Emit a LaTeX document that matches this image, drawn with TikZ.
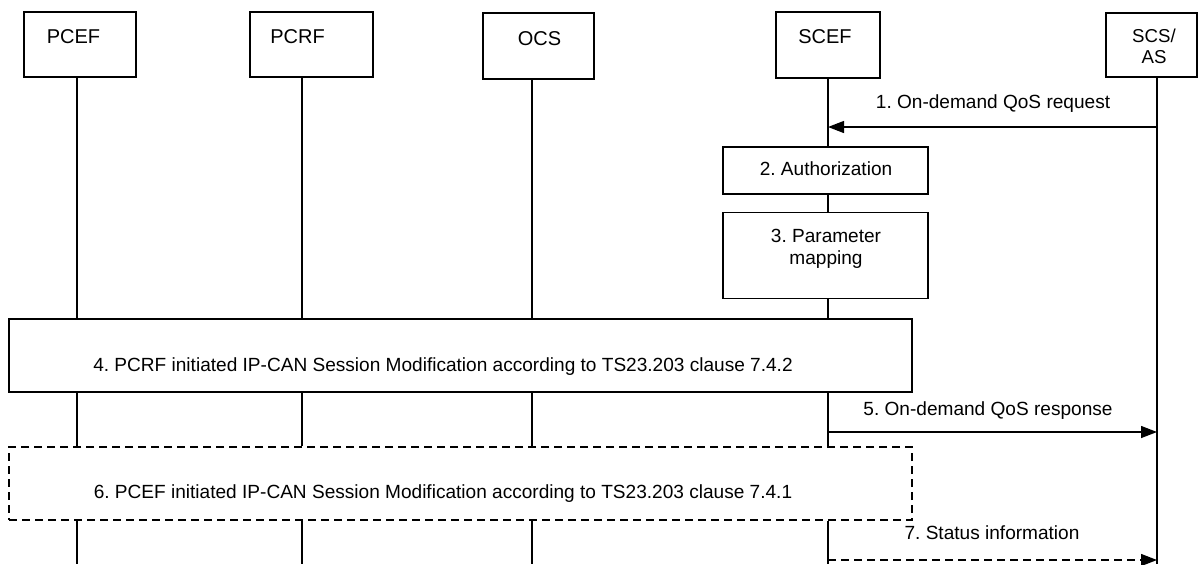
\documentclass[tikz,border=0pt]{standalone}
\usepackage{fontspec}
\setmainfont{Liberation Sans}
\frenchspacing
\usetikzlibrary{arrows.meta}
\begin{document}
\begin{tikzpicture}[x=0.75pt,y=-0.75pt,
  ent/.style={draw,line width=1pt,fill=white,inner sep=0pt},
  proc/.style={draw,line width=1pt,fill=white,inner sep=0pt},
  dproc/.style={proc,dash pattern=on 6pt off 3.75pt},
  enttext/.style={inner sep=0pt,anchor=base,font=\fontsize{15}{18}\selectfont},
  life/.style={line width=0.85pt},
  msg/.style={line width=1pt,-{Triangle[length=12pt,width=9pt]}},
  dmsg/.style={msg,dash pattern=on 6pt off 3.75pt},
  mlabel/.style={inner sep=0pt,anchor=base,align=center,font=\fontsize{14.3}{16.5}\selectfont}]
\useasboundingbox (0,0) rectangle (1198,564);
% entity boxes
\node[ent,minimum width=84pt,minimum height=48.75pt] (pcef) at (80,44.5) {};
\node[ent,minimum width=92.25pt,minimum height=48.75pt] (pcrf) at (311.5,44.5) {};
\node[ent,minimum width=83.25pt,minimum height=49.5pt] (ocs) at (538.5,46) {};
\node[ent,minimum width=78pt,minimum height=49.5pt] (scef) at (828,45) {};
\node[ent,minimum width=68.25pt,minimum height=48pt] (scs) at (1151.5,45) {};
\node[enttext] (tpcef) at (73.5,43) {PCEF};
\node[enttext] (tpcrf) at (297.5,43) {PCRF};
\node[enttext] (tocs) at (539.5,45) {OCS};
\node[enttext] (tscef) at (825,43) {SCEF};
\node[inner sep=0pt,anchor=base,align=center,font=\fontsize{14}{15.75}\selectfont] (tscs) at (1154,63) {SCS/\\AS};
% lifeline x positions
\coordinate (x1) at (77,0);
\coordinate (x2) at (302,0);
\coordinate (x3) at (532,0);
\coordinate (x4) at (828,0);
\coordinate (x5) at (1157,0);
\coordinate (bottom) at (0,564);
% process boxes
\node[proc,minimum width=153.75pt,minimum height=35.25pt] (auth) at (825.5,170.5) {};
\node[mlabel] (tauth) at (826,175) {2. Authorization};
\node[proc,minimum width=153.75pt,minimum height=64.5pt,anchor=north] (pmap) at (825.5,212) {};
\node[mlabel] (tpmap) at (826,264) {3. Parameter\\mapping};
\node[proc,minimum width=677.25pt,minimum height=54.75pt] (s4) at (460.5,355.5) {};
\node[mlabel] (t4) at (443,371) {4. PCRF initiated IP-CAN Session Modification according to TS23.203 clause 7.4.2};
\node[dproc,minimum width=677.25pt,minimum height=54.75pt] (s6) at (460.5,483.5) {};
\node[mlabel] (t6) at (443,498) {6. PCEF initiated IP-CAN Session Modification according to TS23.203 clause 7.4.1};
% lifelines
\draw[life] (pcef.south -| x1) -- (s4.north -| x1);
\draw[life] (s4.south -| x1) -- (s6.north -| x1);
\draw[life] (s6.south -| x1) -- (bottom -| x1);
\draw[life] (pcrf.south -| x2) -- (s4.north -| x2);
\draw[life] (s4.south -| x2) -- (s6.north -| x2);
\draw[life] (s6.south -| x2) -- (bottom -| x2);
\draw[life] (ocs.south -| x3) -- (s4.north -| x3);
\draw[life] (s4.south -| x3) -- (s6.north -| x3);
\draw[life] (s6.south -| x3) -- (bottom -| x3);
\draw[life] (scef.south -| x4) -- (auth.north -| x4);
\draw[life] (auth.south -| x4) -- (pmap.north -| x4);
\draw[life] (pmap.south -| x4) -- (s4.north -| x4);
\draw[life] (s4.south -| x4) -- (s6.north -| x4);
\draw[life] (s6.south -| x4) -- (bottom -| x4);
\draw[life] (scs.south -| x5) -- (bottom -| x5);
% messages
\coordinate (m1a) at (1157,127);
\coordinate (m1b) at (828,127);
\draw[msg] (m1a) -- (m1b);
\node[mlabel] (l1) at (993,108) {1. On-demand QoS request};
\coordinate (m5a) at (828,432);
\coordinate (m5b) at (1157,432);
\draw[msg] (m5a) -- (m5b);
\node[mlabel] (l5) at (988,415) {5. On-demand QoS response};
\coordinate (m7a) at (828,560);
\coordinate (m7b) at (1157,560);
\draw[dmsg] (m7a) -- (m7b);
\node[mlabel] (l7) at (992,539) {7. Status information};
\end{tikzpicture}
\end{document}
